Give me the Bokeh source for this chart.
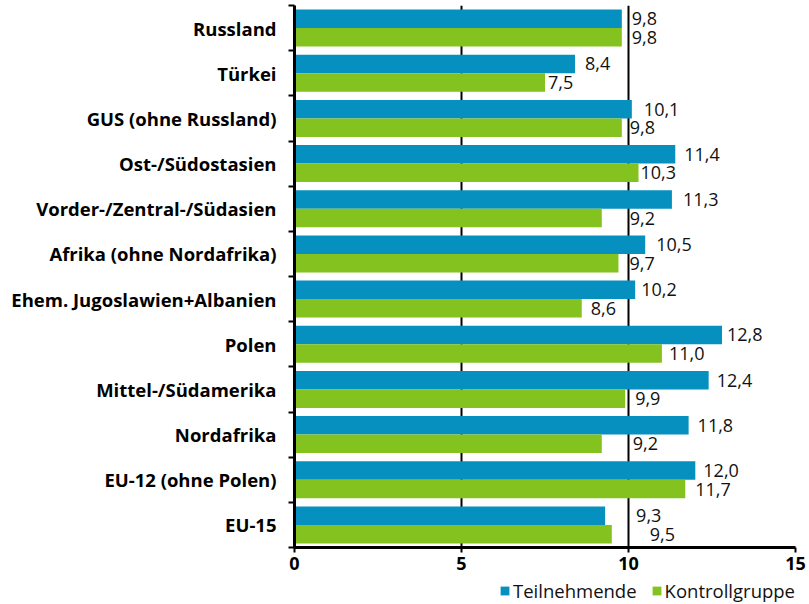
import numpy as np
from bokeh.plotting import figure
from bokeh.layouts import column
from bokeh.models import Range1d, FixedTicker, Legend, LegendItem, ColumnDataSource
from bokeh.core.properties import value
from bokeh.embed import file_html
from bokeh.resources import INLINE

categories = ["Russland", "Türkei", "GUS (ohne Russland)", "Ost-/Südostasien",
              "Vorder-/Zentral-/Südasien", "Afrika (ohne Nordafrika)",
              "Ehem. Jugoslawien+Albanien", "Polen", "Mittel-/Südamerika",
              "Nordafrika", "EU-12 (ohne Polen)", "EU-15"]
teilnehmende = [9.8, 8.4, 10.1, 11.4, 11.3, 10.5, 10.2, 12.8, 12.4, 11.8, 12.0, 9.3]
kontrollgruppe = [9.8, 7.5, 9.8, 10.3, 9.2, 9.7, 8.6, 11.0, 9.9, 9.2, 11.7, 9.5]
x_ticks = [0, 5, 10, 15]

# label placement offsets (px) as in the original
off_t = [10, 10, 12, 9, 11, 11, 6, 5, 8, 9, 8, 31]
off_k = [10, 3, 8, 2, 28, 11, 9, 7, 10, 31, 10, 38]

BLUE = "#0590bf"
GREEN = "#84c21f"
FONT = "Open Sans"

n = len(categories)
idx = np.arange(n)
bh = 0.41

def fmt(v):
    return f"{v:.1f}".replace(".", ",")

src_t = ColumnDataSource(dict(x=teilnehmende, y=idx + 0.5 - bh / 2,
                              lab=[fmt(v) for v in teilnehmende], off=off_t))
src_k = ColumnDataSource(dict(x=kontrollgruppe, y=idx + 0.5 + bh / 2,
                              lab=[fmt(v) for v in kontrollgruppe], off=off_k))

p = figure(width=809, height=578, x_range=Range1d(0, 15), y_range=Range1d(n, 0),
           output_backend="svg", toolbar_location=None,
           min_border_left=294, min_border_right=14, min_border_top=5, min_border_bottom=31)
p.outline_line_color = None

r1 = p.hbar(y="y", right="x", left=0, height=bh, source=src_t, fill_color=BLUE, line_color=None)
r2 = p.hbar(y="y", right="x", left=0, height=bh, source=src_k, fill_color=GREEN, line_color=None)

for s in (src_t, src_k):
    p.text(x="x", y="y", text="lab", x_offset="off", source=s, text_align="left",
           text_baseline="middle", text_font=value(FONT), text_font_size="18px",
           text_color="#111111")

# grid
p.ygrid.visible = False
p.xgrid.ticker = FixedTicker(ticks=x_ticks)
p.xgrid.grid_line_color = "black"
p.xgrid.grid_line_width = 2

# x axis
xa = p.xaxis[0]
xa.ticker = FixedTicker(ticks=x_ticks)
xa.axis_line_width = 3
xa.major_tick_out = 5
xa.major_tick_in = 0
xa.major_tick_line_width = 2
xa.minor_tick_line_color = None
xa.major_label_text_font = FONT
xa.major_label_text_font_style = "bold"
xa.major_label_text_font_size = "18px"
xa.major_label_text_color = "black"
xa.major_label_standoff = 4

# y axis
ya = p.yaxis[0]
ya.ticker = FixedTicker(ticks=list(idx + 0.5), minor_ticks=list(range(n + 1)))
ya.major_label_overrides = {float(i + 0.5): c for i, c in enumerate(categories)}
ya.axis_line_width = 3
ya.major_tick_line_color = None
ya.major_tick_out = 0
ya.major_tick_in = 0
ya.minor_tick_out = 6
ya.minor_tick_in = 0
ya.minor_tick_line_width = 2
ya.minor_tick_line_color = "black"
ya.major_label_text_font = FONT
ya.major_label_text_font_style = "bold"
ya.major_label_text_font_size = "18.5px"
ya.major_label_text_color = "black"
ya.major_label_standoff = 12

# legend in a separate strip below the chart (zero-size proxy bars)
p2 = figure(width=809, height=26, x_range=Range1d(0, 1), y_range=Range1d(0, 1),
            output_backend="svg", toolbar_location=None,
            min_border_left=0, min_border_right=0, min_border_top=0, min_border_bottom=0)
p2.axis.visible = False
p2.grid.visible = False
p2.outline_line_color = None
l1 = p2.hbar(y=[0.5], right=[0], left=0, height=0, fill_color=BLUE, line_color=None)
l2 = p2.hbar(y=[0.5], right=[0], left=0, height=0, fill_color=GREEN, line_color=None)
legend = Legend(items=[LegendItem(label="Teilnehmende", renderers=[l1]),
                       LegendItem(label="Kontrollgruppe", renderers=[l2])],
                orientation="horizontal", location="top_right")
legend.label_text_font = FONT
legend.label_text_font_size = "18.5px"
legend.label_text_color = "#111111"
legend.label_height = 20
legend.glyph_width = 11
legend.glyph_height = 11
legend.label_standoff = 3
legend.spacing = 14
legend.padding = 0
legend.margin = 0
legend.border_line_color = None
legend.background_fill_alpha = 0
p2.add_layout(legend)

layout = column(p, p2, spacing=0)
open("out.html", "w").write(file_html(layout, INLINE))
